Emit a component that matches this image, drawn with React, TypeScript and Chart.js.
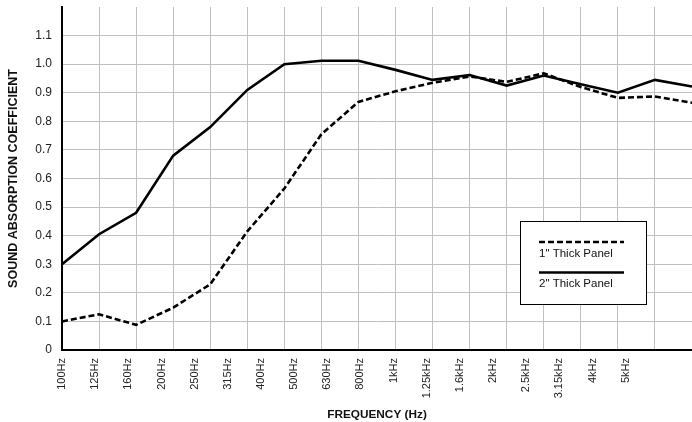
import React, { useEffect, useRef } from "react";
import { Chart, registerables } from "chart.js";

Chart.register(...registerables);

const frequencies = [
  "100Hz", "125Hz", "160Hz", "200Hz", "250Hz", "315Hz", "400Hz", "500Hz", "630Hz",
  "800Hz", "1kHz", "1.25kHz", "1.6kHz", "2kHz", "2.5kHz", "3.15kHz", "4kHz", "5kHz",
];
const tickLabels = [...frequencies, "", ""];
const panel1in = [0.10, 0.125, 0.088, 0.148, 0.23, 0.415, 0.565, 0.755, 0.868, 0.905, 0.935, 0.957, 0.938, 0.968, 0.92, 0.882, 0.887, 0.865];
const panel2in = [0.30, 0.405, 0.48, 0.68, 0.78, 0.91, 1.0, 1.012, 1.012, 0.98, 0.945, 0.962, 0.925, 0.96, 0.93, 0.90, 0.945, 0.922];
const legendLabels = ['1" Thick Panel', '2" Thick Panel'];
const yAxisTitle = "SOUND ABSORPTION COEFFICIENT";
const xAxisTitle = "FREQUENCY (Hz)";

const FONT = 'Arial, "Liberation Sans", sans-serif';
const DASH = [6, 3];

const legendPlugin = {
  id: "boxLegend",
  afterDraw(chart: any) {
    const ctx = chart.ctx;
    ctx.save();
    const bx = 520.5, by = 221.5, bw = 126, bh = 83;
    ctx.fillStyle = "#fff";
    ctx.fillRect(bx, by, bw, bh);
    ctx.strokeStyle = "#000";
    ctx.lineWidth = 1;
    ctx.strokeRect(bx, by, bw, bh);
    const rows = [
      { lineY: 242, textY: 253.5, dash: DASH },
      { lineY: 272.5, textY: 284, dash: [] as number[] },
    ];
    rows.forEach((r, i) => {
      ctx.beginPath();
      ctx.setLineDash(r.dash);
      ctx.lineWidth = 2.5;
      ctx.moveTo(539, r.lineY);
      ctx.lineTo(624, r.lineY);
      ctx.stroke();
      ctx.setLineDash([]);
      ctx.fillStyle = "#111";
      ctx.font = `11.5px ${FONT}`;
      ctx.textAlign = "left";
      ctx.textBaseline = "middle";
      ctx.fillText(legendLabels[i], 539, r.textY);
    });
    ctx.restore();
  },
};

export default function App() {
  const ref = useRef<HTMLCanvasElement>(null);
  useEffect(() => {
    if (!ref.current) return;
    const chart = new Chart(ref.current, {
      type: "line",
      data: {
        labels: frequencies,
        datasets: [
          {
            label: legendLabels[0],
            data: panel1in,
            borderColor: "#000",
            borderWidth: 2.6,
            borderDash: DASH,
            pointRadius: 0,
            tension: 0,
            fill: false,
            xAxisID: "x",
            yAxisID: "y",
          },
          {
            label: legendLabels[1],
            data: panel2in,
            borderColor: "#000",
            borderWidth: 2.6,
            pointRadius: 0,
            tension: 0,
            fill: false,
            xAxisID: "x",
            yAxisID: "y",
          },
        ],
      },
      options: {
        responsive: false,
        animation: false,
        layout: { padding: { top: 7, left: 0, right: 0, bottom: 0 } },
        plugins: { legend: { display: false }, tooltip: { enabled: false } },
        scales: {
          x: {
            type: "category",
            offset: false,
            weight: 0,
            ticks: { display: false },
            grid: { color: "#c0c0c0", lineWidth: 1, drawTicks: false },
            border: { display: false },
            afterFit(s: any) {
              s.height = 0;
              s.paddingLeft = 0;
              s.paddingRight = 0;
            },
          },
          xLabels: {
            type: "category",
            labels: tickLabels,
            position: "bottom",
            offset: false,
            weight: 1,
            grid: { display: true, color: "transparent", drawTicks: false },
            border: { display: true, color: "#000", width: 2 },
            ticks: {
              autoSkip: false,
              maxRotation: 90,
              minRotation: 90,
              padding: 8,
              color: "#222",
              font: { family: FONT, size: 11 },
            },
            title: {
              display: true,
              text: xAxisTitle,
              color: "#111",
              font: { family: FONT, size: 11.8, weight: "bold" },
              padding: { top: 0, bottom: 0 },
            },
            afterFit(s: any) {
              s.height = 72;
              s.paddingLeft = 0;
              s.paddingRight = 0;
            },
          },
          y: {
            type: "linear",
            min: 0,
            max: 1.2,
            ticks: {
              stepSize: 0.1,
              padding: 10,
              color: "#222",
              font: { family: FONT, size: 12 },
              callback: (v: any) => {
                const n = Number(v);
                if (n > 1.15) return "";
                if (Math.abs(n) < 1e-9) return "0";
                return n.toFixed(1);
              },
            },
            grid: {
              drawTicks: false,
              lineWidth: 1,
              color: (c: any) => (c.tick && c.tick.value > 1.15 ? "transparent" : "#c0c0c0"),
            },
            border: { display: true, color: "#000", width: 2 },
            title: {
              display: true,
              text: yAxisTitle,
              color: "#111",
              font: { family: FONT, size: 12.5, weight: "bold" },
              padding: { top: 6, bottom: 6 },
            },
            afterFit(s: any) {
              s.width = 62;
              s.paddingTop = 0;
              s.paddingBottom = 0;
            },
          },
        },
      },
      plugins: [legendPlugin],
    } as any);
    return () => chart.destroy();
  }, []);
  return (
    <div style={{ position: "absolute", left: 0, top: 0, width: 692, height: 422, background: "#fff" }}>
      <canvas ref={ref} width={692} height={422} style={{ display: "block" }} />
    </div>
  );
}
